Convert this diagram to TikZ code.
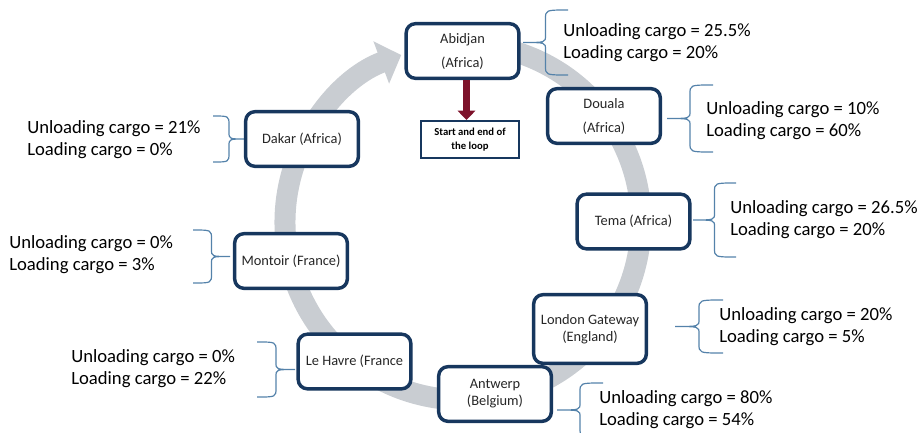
\documentclass[tikz,border=0pt]{standalone}
\usepackage{fontspec}
\setmainfont{Carlito}
\usepackage{xcolor}
\usetikzlibrary{arrows.meta,shadows}

\definecolor{ringgray}{RGB}{201,205,210}
\definecolor{portblue}{RGB}{23,55,94}
\definecolor{braceblue}{RGB}{84,130,170}
\definecolor{loopred}{RGB}{125,18,42}

% end x, tip x, top y, bottom y
\newcommand{\cargobrace}[4]{%
  \draw[bracestyle] (#1,#3) .. controls ({(#1+#2)/2},#3) .. ({(#1+#2)/2},{#3+9})
    -- ({(#1+#2)/2},{(#3+#4)/2-7}) .. controls ({(#1+#2)/2},{(#3+#4)/2}) .. (#2,{(#3+#4)/2})
    .. controls ({(#1+#2)/2},{(#3+#4)/2}) .. ({(#1+#2)/2},{(#3+#4)/2+7})
    -- ({(#1+#2)/2},{#4-9}) .. controls ({(#1+#2)/2},#4) .. (#1,#4);}

\begin{document}
\begin{tikzpicture}[x=0.75pt,y=-0.75pt,
    port/.style={draw=portblue, line width=2.6pt, rounded corners=7pt, fill=white,
      minimum width=84.5pt, minimum height=41pt, align=center, text=black!85,
      font=\fontsize{10.8}{18}\selectfont,
      drop shadow={opacity=0.25, shadow xshift=1pt, shadow yshift=-1pt}},
    cargo/.style={anchor=west, align=left, inner sep=0pt, font=\fontsize{14}{16.5}\selectfont},
    bracestyle/.style={draw=braceblue, line width=0.9pt}]
         \useasboundingbox (0,0) rectangle (921,432);
         \clip (0,0) rectangle (921,432);
         % Loop
         \coordinate (hub) at (463,222);
         \draw [ringgray, line width=15.75pt, -{Triangle[width=33pt,length=16pt]}]
               (hub) ++(-80:178) arc [start angle=-80, end angle=249.7, radius=178];
         % Braces
         \cargobrace{568}{523}{10}{75}
         \cargobrace{713}{667}{85}{152}
         \cargobrace{213}{245}{116}{162}
         \cargobrace{193}{230}{230}{283}
         \cargobrace{736}{693}{183}{257}
         \cargobrace{723}{675}{300}{353}
         \cargobrace{257}{295}{342}{397}
         \cargobrace{603}{557}{383}{437}
         % Ports
         \node [port] (abidjan) at (462.5,51) {Abidjan\\(Africa)};
         \node [port] (douala) at (604,116) {Douala\\(Africa)};
         \node [port] (dakar) at (302,139) {Dakar (Africa)};
         \node [port] (tema) at (633.5,221.5) {Tema (Africa)};
         \node [port] (montoir) at (291,261) {Montoir (France)};
         \node [port, minimum height=51.5pt, font=\fontsize{10.8}{12.5}\selectfont] (london) at (590,329) {London Gateway\\(England)};
         \node [port] (lehavre) at (354.5,361.5) {Le Havre (France};
         \node [port, font=\fontsize{10.8}{12.8}\selectfont] (antwerp) at (495,394) {Antwerp\\(Belgium)};
         % Start of the loop
         \node [draw=portblue, line width=1.2pt, fill=white, minimum width=73.5pt, minimum height=28pt,
                align=center, font=\bfseries\fontsize{8}{10.5}\selectfont] (start) at (470,139.5) {Start and end of\\the loop};
         \draw [loopred, line width=5pt, -{Triangle[width=13pt,length=7pt]}]
               ([xshift=3pt]abidjan.south) -- ([xshift=3pt]abidjan.south |- start.north);
         % Cargo
         \node [cargo] (abidjanCargo) at (563,43) {Unloading cargo = 25.5\%\\Loading cargo = 20\%};
         \node [cargo] (doualaCargo) at (706,121) {Unloading cargo = 10\%\\Loading cargo = 60\%};
         \node [cargo] (dakarCargo) at (27,140) {Unloading cargo = 21\%\\Loading cargo = 0\%};
         \node [cargo] (montoirCargo) at (9,255) {Unloading cargo = 0\%\\Loading cargo = 3\%};
         \node [cargo] (temaCargo) at (730,220) {Unloading cargo = 26.5\%\\Loading cargo = 20\%};
         \node [cargo] (londonCargo) at (719,327) {Unloading cargo = 20\%\\Loading cargo = 5\%};
         \node [cargo] (lehavreCargo) at (71,369) {Unloading cargo = 0\%\\Loading cargo = 22\%};
         \node [cargo] (antwerpCargo) at (599,410) {Unloading cargo = 80\%\\Loading cargo = 54\%};
     \end{tikzpicture}
\end{document}
